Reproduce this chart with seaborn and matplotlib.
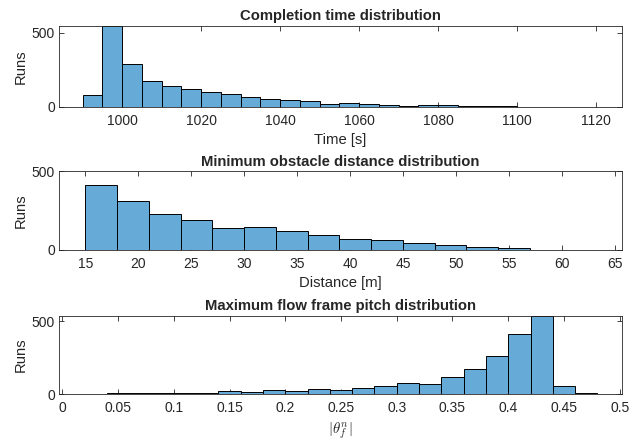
import numpy as np
import pandas as pd
import matplotlib
matplotlib.use('Agg')
import matplotlib.pyplot as plt
import seaborn as sns

# completion time histogram, 5 s bins
time_edges = list(range(990, 1125, 5))
time_counts = [83, 545, 288, 176, 142, 122, 101, 88, 68, 54, 45, 38, 23, 27, 18, 14, 7, 11, 11,
               4, 4, 4, 2, 1, 1, 1]

# minimum obstacle distance histogram, 3 m bins
dist_edges = list(range(15, 66, 3))
dist_counts = [412, 313, 229, 189, 139, 146, 122, 97, 70, 61, 46, 32, 21, 15, 2, 1]

# max flow frame pitch histogram, 0.02 bins
pitch_edges = [round(0.02 * i, 2) for i in range(1, 25)]
pitch_counts = [2, 5, 9, 5, 9, 9, 20, 16, 30, 18, 32, 25, 41, 57, 78, 68, 116, 169, 260, 413,
                534, 54, 4]

sns.set_theme(style='ticks')
plt.rcParams['font.family'] = ['Liberation Sans', 'DejaVu Sans']
plt.rcParams['mathtext.fontset'] = 'cm'

bar_color = '#66AAD7'
frame_color = '#262626'


def draw_hist(ax, edges, counts, title, xlabel, xlim, ylim, xticks):
    e = np.array(edges, dtype=float)
    df = pd.DataFrame({'value': (e[:-1] + e[1:]) / 2, 'count': counts})
    sns.histplot(data=df, x='value', weights='count', bins=[float(v) for v in edges], ax=ax,
                 color=bar_color, alpha=1, edgecolor='black', linewidth=0.7)
    ax.set_xlim(*xlim)
    ax.set_ylim(*ylim)
    ax.set_xticks(xticks)
    ax.set_yticks([0, 500])
    ax.set_title(title, fontsize=10.7, fontweight='bold', pad=4)
    ax.set_xlabel(xlabel, fontsize=10.7, labelpad=4)
    ax.set_ylabel('Runs', fontsize=10.7, labelpad=3)
    ax.tick_params(direction='in', top=True, right=True, length=3.5, width=0.6,
                   labelsize=10, colors=frame_color)
    ax.tick_params(axis='x', pad=5)
    ax.tick_params(axis='y', pad=3)
    for sp in ax.spines.values():
        sp.set_visible(True)
        sp.set_color(frame_color)
        sp.set_linewidth(0.6)


fig = plt.figure(figsize=(6.34, 4.43), dpi=100)
ax1 = fig.add_axes([0.093, 0.7585, 0.888, 0.183])
ax2 = fig.add_axes([0.093, 0.4357, 0.888, 0.178])
ax3 = fig.add_axes([0.093, 0.1106, 0.888, 0.176])

draw_hist(ax1, time_edges, time_counts, 'Completion time distribution', 'Time [s]',
          (984, 1126.5), (0, 545), list(range(1000, 1121, 20)))
draw_hist(ax2, dist_edges, dist_counts, 'Minimum obstacle distance distribution', 'Distance [m]',
          (12.5, 65.7), (0, 500), list(range(15, 66, 5)))
draw_hist(ax3, pitch_edges, pitch_counts, 'Maximum flow frame pitch distribution', r'$|\theta_f^n|$',
          (-0.003, 0.502), (0, 534), [round(0.05 * i, 2) for i in range(11)])
ax3.set_xticklabels(['0', '0.05', '0.1', '0.15', '0.2', '0.25', '0.3', '0.35', '0.4', '0.45', '0.5'])

fig.savefig('out.png', dpi=100)
